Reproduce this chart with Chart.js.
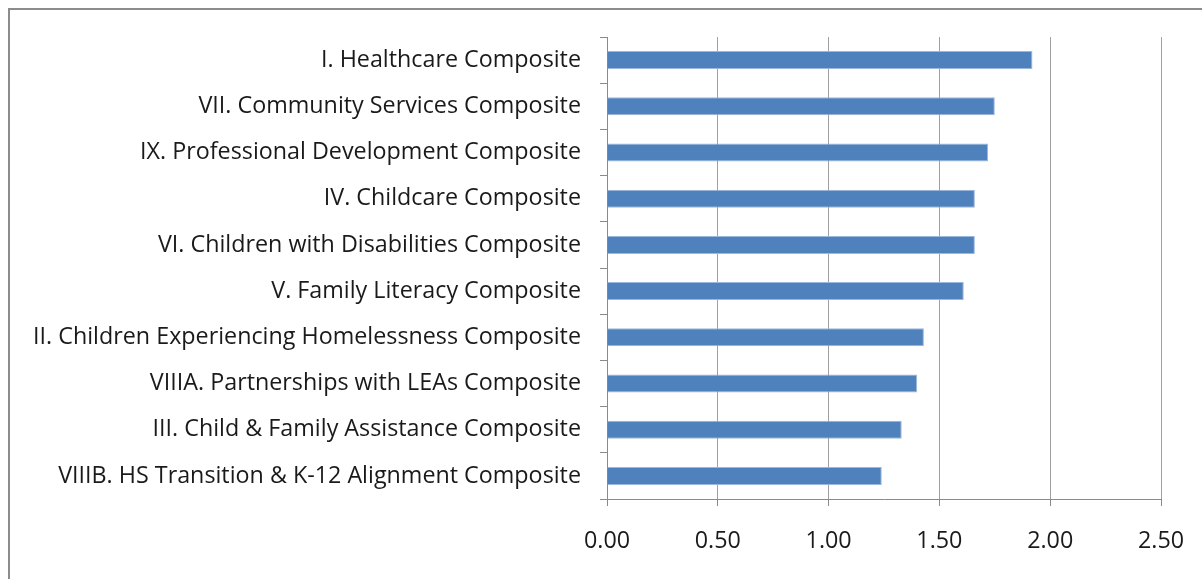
<!DOCTYPE html>
<html>
<head>
<meta charset="utf-8">
<script src="https://cdn.jsdelivr.net/npm/chart.js@4.4.0/dist/chart.umd.min.js"></script>
<style>
html, body { margin: 0; padding: 0; background: #fff; overflow: hidden; }
#wrap { position: absolute; left: 0; top: 0; width: 1202px; height: 579px; }
#frame { position: absolute; left: 8px; top: 8px; width: 1220px; height: 600px; border: 2px solid #8c8c8c; }
</style>
</head>
<body>
<div id="frame"></div>
<div id="wrap"><canvas id="compositeChart"></canvas></div>
<script>
const categories = [
    'I. Healthcare Composite',
    'VII. Community Services Composite',
    'IX. Professional Development Composite',
    'IV. Childcare Composite',
    'VI. Children with Disabilities Composite',
    'V. Family Literacy Composite',
    'II. Children Experiencing Homelessness Composite',
    'VIIIA. Partnerships with LEAs Composite',
    'III. Child & Family Assistance Composite',
    'VIIIB. HS Transition & K-12 Alignment Composite'
]
const scores = [1.92, 1.75, 1.72, 1.66, 1.66, 1.61, 1.43, 1.40, 1.33, 1.24]
const axisMin = 0
const axisMax = 2.5
const axisStep = 0.5

const labelFont = { family: 'Open Sans', size: 23.3, lineHeight: 1.2 }

const ctx = document.getElementById('compositeChart').getContext('2d');
const chart = new Chart(ctx, {
    type: 'bar',
    data: {
        labels: categories,
        datasets: [{
            data: scores,
            backgroundColor: '#4f81bd',
            borderColor: '#9bb7dc',
            borderWidth: 1,
            categoryPercentage: 1,
            barPercentage: 0.39
        }]
    },
    options: {
        indexAxis: 'y',
        responsive: true,
        maintainAspectRatio: false,
        animation: false,
        layout: {
            padding: { left: 0, right: 41, top: 37, bottom: 0 }
        },
        plugins: {
            legend: { display: false },
            tooltip: { enabled: false }
        },
        scales: {
            x: {
                min: axisMin,
                max: axisMax,
                ticks: {
                    stepSize: axisStep,
                    color: '#1a1a1a',
                    font: labelFont,
                    padding: 21,
                    maxRotation: 0,
                    callback: (v) => Number(v).toFixed(2)
                },
                grid: {
                    color: '#a0a0a0',
                    tickColor: '#8a8a8a',
                    tickLength: 7,
                    lineWidth: 1
                },
                border: { color: '#8a8a8a', width: 1 },
                afterFit: (scale) => {
                    // keep the plot edge fixed; the last label fits in the layout padding
                    scale.height = 80
                    scale.paddingRight = 0
                    scale.paddingLeft = 0
                }
            },
            y: {
                ticks: {
                    color: '#1a1a1a',
                    font: labelFont,
                    padding: 19,
                    autoSkip: false
                },
                grid: {
                    offset: true,
                    drawOnChartArea: false,
                    tickColor: '#8a8a8a',
                    tickLength: 7
                },
                border: { color: '#8a8a8a', width: 1 },
                afterFit: (scale) => { scale.width = 607 }
            }
        }
    }
})
</script>
</body>
</html>
